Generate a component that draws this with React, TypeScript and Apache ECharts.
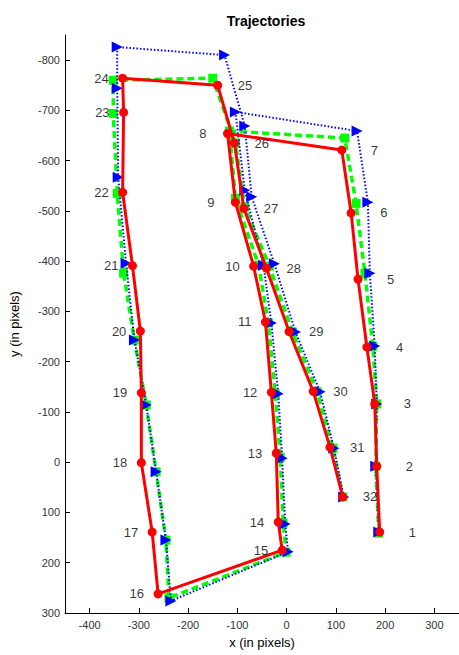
import React, { useEffect, useRef } from "react";
import * as echarts from "echarts";

const pointLabels = ["1","2","3","4","5","6","7","8","9","10","11","12","13","14","15","16","17","18","19","20","21","22","23","24","25","26","27","28","29","30","31","32"];

const redX = [189, 183, 179, 163, 145, 131, 112, -120, -104, -67, -43, -31, -21, -17, -9, -261, -273, -295, -295, -297, -313, -333, -331, -333, -140, -106, -87, -41, 5, 54, 88, 114];
const redY = [139, 8, -116, -229, -364, -496, -621, -654, -517, -390, -279, -139, -18, 119, 175, 262, 139, 1, -138, -261, -391, -537, -696, -764, -750, -635, -505, -386, -260, -141, -30, 69];

const greenX = [187, 181, 183, 175, 159, 141, 118, -116, -104, -57, -37, -23, -13, -7, -1, -239, -245, -265, -285, -309, -331, -344, -352, -352, -150, -104, -85, -35, 12, 62, 94, 114];
const greenY = [141, 8, -116, -231, -376, -515, -645, -659, -525, -392, -277, -136, -10, 121, 179, 270, 155, 19, -114, -243, -376, -535, -694, -760, -764, -635, -508, -390, -259, -140, -28, 69];

const blueX = [187, 181, 183, 179, 169, 165, 143, -104, -85, -47, -31, -17, -9, -3, 3, -235, -245, -265, -285, -309, -326, -342, -344, -344, -126, -85, -71, -25, 18, 68, 96, 116];
const blueY = [139, 8, -116, -231, -376, -517, -659, -697, -541, -392, -277, -136, -8, 123, 178, 276, 155, 19, -114, -243, -396, -567, -744, -826, -810, -669, -528, -395, -259, -140, -28, 69];

const xTicks = [-400, -300, -200, -100, 0, 100, 200, 300];
const yTicks = [-800, -700, -600, -500, -400, -300, -200, -100, 0, 100, 200, 300];

const FONT = "'Liberation Sans', Arial, Helvetica, sans-serif";

function labelPlacement(i: number) {
  const twoDigit = pointLabels[i].length > 1;
  const leftSide = i >= 7 && i <= 23;
  if (leftSide) return { position: "left", distance: twoDigit ? 10 : 17 };
  return { position: "right", distance: twoDigit ? 16 : 25 };
}

export default function App() {
  const ref = useRef<HTMLDivElement>(null);
  useEffect(() => {
    if (!ref.current) return;
    const chart = echarts.init(ref.current, null, { renderer: "svg" });
    const pairs = (xs: number[], ys: number[]) => xs.map((x, i) => [x, ys[i]]);
    const labelData = redX.map((x, i) => ({
      value: [x, redY[i]],
      label: {
        show: true,
        ...labelPlacement(i),
        formatter: pointLabels[i],
      },
    }));
    const axisCommon = {
      type: "value",
      axisLine: { show: true, onZero: false, lineStyle: { color: "#000", width: 1 } },
      splitLine: { show: false },
    };
    chart.setOption({
      animation: false,
      backgroundColor: "#fff",
      title: {
        text: "Trajectories",
        left: 261,
        top: 9,
        textAlign: "center",
        textStyle: { fontFamily: FONT, fontSize: 14, fontWeight: "bold", color: "#000" },
      },
      grid: { left: 60, top: 35, width: 403, height: 578, containLabel: false },
      xAxis: {
        ...axisCommon,
        min: -450,
        max: 350,
        axisTick: { show: true, inside: true, length: 5, customValues: xTicks, lineStyle: { color: "#000" } },
        axisLabel: { customValues: xTicks, color: "#333", fontSize: 11, fontFamily: FONT, margin: 6 },
        name: "x (in pixels)",
        nameLocation: "middle",
        nameGap: 23,
        nameTextStyle: { fontFamily: FONT, fontSize: 13, color: "#000" },
      },
      yAxis: {
        ...axisCommon,
        inverse: true,
        min: -850,
        max: 300,
        axisTick: { show: true, inside: true, length: 5, customValues: yTicks, lineStyle: { color: "#000" } },
        axisLabel: { customValues: yTicks, color: "#333", fontSize: 11, fontFamily: FONT, margin: 5 },
        name: "y (in pixels)",
        nameLocation: "middle",
        nameGap: 44,
        nameRotate: 90,
        nameTextStyle: { fontFamily: FONT, fontSize: 13, color: "#000" },
      },
      series: [
        {
          type: "line",
          name: "green",
          data: pairs(greenX, greenY),
          symbol: "rect",
          symbolSize: 9,
          showAllSymbol: true,
          itemStyle: { color: "#00ff00" },
          lineStyle: { color: "#00ff00", width: 3.5, type: [7, 4] },
          z: 2,
        },
        {
          type: "line",
          name: "blue",
          data: pairs(blueX, blueY),
          symbol: "triangle",
          symbolRotate: -90,
          symbolSize: 11,
          showAllSymbol: true,
          itemStyle: { color: "#0000ff" },
          lineStyle: { color: "#0000ff", width: 2, type: [1.5, 2] },
          z: 3,
        },
        {
          type: "line",
          name: "red",
          data: pairs(redX, redY),
          symbol: "circle",
          symbolSize: 9,
          showAllSymbol: true,
          itemStyle: { color: "#ff0000" },
          lineStyle: { color: "#ff0000", width: 3 },
          z: 4,
        },
        {
          type: "scatter",
          name: "labels",
          data: labelData,
          symbol: "circle",
          symbolSize: 8,
          itemStyle: { color: "rgba(0,0,0,0)" },
          label: { show: true, color: "#000", fontSize: 13, fontFamily: FONT, textBorderWidth: 0 },
          labelLayout: { hideOverlap: false },
          silent: true,
          z: 5,
        },
      ],
    });
    return () => chart.dispose();
  }, []);
  return <div ref={ref} style={{ position: "fixed", left: 0, top: 0, width: 459, height: 655 }} />;
}
